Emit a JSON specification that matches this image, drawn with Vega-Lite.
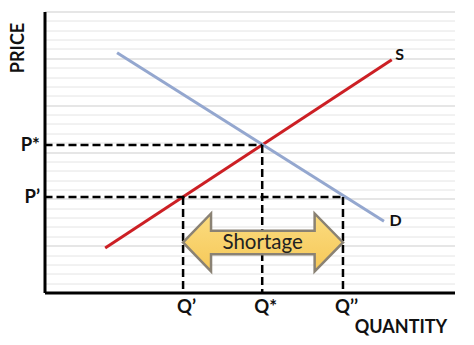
{
  "$schema": "https://vega.github.io/schema/vega-lite/v6.json",
  "width": 410,
  "height": 281,
  "autosize": "none",
  "padding": {"left": 44.5, "top": 11.5, "right": 19.5, "bottom": 52.5},
  "background": "white",
  "config": {"view": {"stroke": null}, "font": "Lato"},
  "datasets": {
    "curves": [
      {"curve": "S", "q": 14.8, "p": 4.75},
      {"curve": "S", "q": 84.7, "p": 24.85},
      {"curve": "D", "q": 17.7, "p": 25.6},
      {"curve": "D", "q": 82.8, "p": 7.6}
    ],
    "dashes": [
      {"q": 0, "q2": 53.1, "p": 15.75, "p2": 15.75},
      {"q": 53.1, "q2": 53.1, "p": 15.75, "p2": 0},
      {"q": 0, "q2": 72.8, "p": 10.2, "p2": 10.2},
      {"q": 33.8, "q2": 33.8, "p": 10.2, "p2": 0},
      {"q": 72.8, "q2": 72.8, "p": 10.2, "p2": 0}
    ],
    "arrow": [
      {"q": 53.3, "p": 5.34}
    ],
    "curveLabels": [
      {"label": "S", "q": 86.6, "p": 25.4},
      {"label": "D", "q": 85.6, "p": 7.6}
    ],
    "shortage": [
      {"label": "Shortage", "q": 53.2, "p": 5.3}
    ]
  },
  "layer": [
    {
      "data": {"name": "curves"},
      "mark": {"type": "line", "strokeWidth": 3},
      "encoding": {
        "x": {
          "field": "q", "type": "quantitative",
          "scale": {"domain": [0, 100], "nice": false, "zero": false},
          "axis": {
            "values": [33.8, 53.1, 72.8],
            "tickCount": 100,
            "labelExpr": "datum.value == 33.8 ? 'Q’' : datum.value == 53.1 ? 'Q*' : 'Q’’'",
            "grid": false, "ticks": false, "labelOverlap": false,
            "domainColor": "black", "domainWidth": 3,
            "labelFont": "Lato", "labelFontWeight": "bold", "labelFontSize": 18.5, "labelColor": "#111",
            "labelPadding": 5, "labelOffset": 3, "labelFlush": false,
            "title": "QUANTITY", "titleFont": "Lato", "titleFontWeight": "bold", "titleFontSize": 18, "titleColor": "#111",
            "titleX": 356, "titleY": 35, "titleAlign": "center", "titleBaseline": "middle"
          }
        },
        "y": {
          "field": "p", "type": "quantitative",
          "scale": {"domain": [0, 30], "nice": false, "zero": false},
          "axis": {
            "values": [1,2,3,4,5,6,7,8,9,10,10.2,11,12,13,14,15,15.75,16,17,18,19,20,21,22,23,24,25,26,27,28,29,30],
            "tickCount": 100,
            "labelExpr": "abs(datum.value - 15.75) < 0.01 ? 'P*' : abs(datum.value - 10.2) < 0.01 ? 'P’' : ''",
            "labelOverlap": false,
            "grid": true,
            "gridColor": {"condition": {"test": "datum.value % 5 === 0", "value": "#cdcdcd"}, "value": "#e4e4e4"},
            "gridOpacity": {"condition": {"test": "datum.value == 10.2 || datum.value == 15.75", "value": 0}, "value": 1},
            "gridWidth": 1,
            "ticks": false,
            "domainColor": "black", "domainWidth": 3,
            "labelFont": "Lato", "labelFontWeight": "bold", "labelFontSize": 18.5, "labelColor": "#111",
            "labelPadding": 5,
            "title": "PRICE", "titleFont": "Lato", "titleFontWeight": "bold", "titleFontSize": 18, "titleColor": "#111",
            "titleAngle": -90, "titleX": -26, "titleY": 36, "titleAlign": "center", "titleBaseline": "middle"
          }
        },
        "color": {
          "field": "curve", "type": "nominal",
          "scale": {"domain": ["S", "D"], "range": ["#cc1f24", "#94a7cf"]},
          "legend": null
        },
        "detail": {"field": "curve"}
      }
    },
    {
      "data": {"name": "dashes"},
      "mark": {"type": "rule", "color": "black", "strokeWidth": 2.5, "strokeDash": [8, 4]},
      "encoding": {
        "x": {"field": "q", "type": "quantitative"},
        "x2": {"field": "q2"},
        "y": {"field": "p", "type": "quantitative"},
        "y2": {"field": "p2"}
      }
    },
    {
      "data": {"name": "arrow"},
      "mark": {
        "type": "point", "filled": true, "opacity": 1, "size": 25600,
        "shape": "M-1,0 L-0.65,-0.3625 L-0.65,-0.146 L0.645,-0.146 L0.645,-0.3625 L1,0 L0.645,0.3625 L0.645,0.146 L-0.65,0.146 L-0.65,0.3625 Z",
        "fill": {"gradient": "linear", "x1": 0, "y1": 0, "x2": 0, "y2": 1,
          "stops": [{"offset": 0, "color": "#fbdc80"}, {"offset": 1, "color": "#f6c858"}]},
        "stroke": "#8a8274", "strokeWidth": 2.5, "strokeJoin": "miter"
      },
      "encoding": {
        "x": {"field": "q", "type": "quantitative"},
        "y": {"field": "p", "type": "quantitative"}
      }
    },
    {
      "data": {"name": "curveLabels"},
      "mark": {"type": "text", "font": "Lato", "fontWeight": "bold", "fontSize": 16, "color": "#111", "align": "center", "baseline": "middle"},
      "encoding": {
        "x": {"field": "q", "type": "quantitative"},
        "y": {"field": "p", "type": "quantitative"},
        "text": {"field": "label"}
      }
    },
    {
      "data": {"name": "shortage"},
      "mark": {"type": "text", "font": "Lato", "fontSize": 20.5, "color": "#222", "align": "center", "baseline": "middle"},
      "encoding": {
        "x": {"field": "q", "type": "quantitative"},
        "y": {"field": "p", "type": "quantitative"},
        "text": {"field": "label"}
      }
    }
  ]
}
